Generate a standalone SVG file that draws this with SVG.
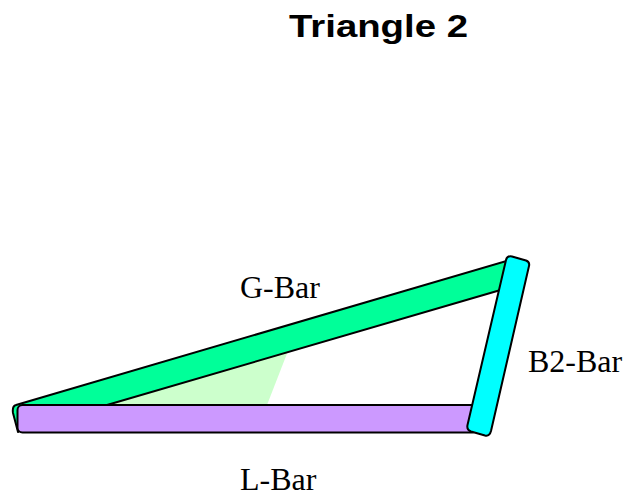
<svg xmlns="http://www.w3.org/2000/svg" width="634" height="495" viewBox="0 0 634 495">
<style>
.bar{stroke:#000;stroke-width:2;stroke-linejoin:round}
.lbl{font-family:"Liberation Serif",serif;font-size:32px;fill:#000}
.ttl{font-family:"Liberation Sans",Arial,sans-serif;font-size:32px;font-weight:bold;fill:#000}
</style>
<rect width="634" height="495" fill="#fff"/>
<polygon id="sector" points="100,405 288,351 267,405" fill="#ccffcc"/>
<g id="g-bar">
<path class="bar" fill="#00ff99" d="M16,405 L510,260 L504,289 L107,405 L40,405 L18,432 L13,413 Q12,406 16,405 Z"/>
<text class="lbl" x="240" y="298">G-Bar</text>
</g>
<g id="l-bar">
<rect class="bar" fill="#cc99ff" x="17.500" y="405" width="460" height="27.500" rx="5" ry="5"/>
<text class="lbl" x="240" y="490">L-Bar</text>
</g>
<g id="b2-bar">
<path class="bar" fill="#00ffff" d="M512,256.500 L526,260.500 Q530,262 529,266 L491,431 Q489.500,436.500 485,435.500 L471,431.500 Q466.500,430 467.500,425 L506,260 Q507,255.500 512,256.500 Z"/>
<text class="lbl" x="528" y="372">B2-Bar</text>
</g>
<text id="title" class="ttl" x="289" y="37" textLength="179" lengthAdjust="spacingAndGlyphs">Triangle 2</text>
</svg>
